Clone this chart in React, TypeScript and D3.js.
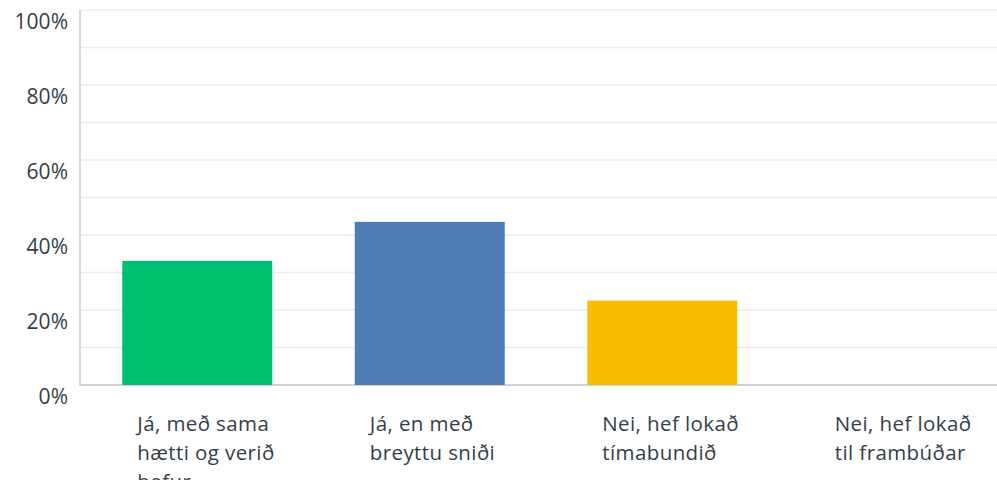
import React, { useEffect, useRef } from "react";
import * as d3 from "d3";

const categories = [
  "Já, með sama hætti og verið hefur",
  "Já, en með breyttu sniði",
  "Nei, hef lokað tímabundið",
  "Nei, hef lokað til frambúðar",
];
const values = [33.1, 43.5, 22.5, 0];
const colors = ["#00bf6f", "#507cb6", "#f9be00", "#6bc8cd"];
const yTicks = [0, 20, 40, 60, 80, 100];
const gridTicks = [0, 10, 20, 30, 40, 50, 60, 70, 80, 90, 100];

const W = 997;
const H = 480;
const left = 81;
const rightEdge = 1011;
const top = 10;
const bottom = 385;
const FONT = "'Open Sans', Roboto, sans-serif";
const TEXT = "#333e48";

export default function App() {
  const labelRef = useRef<SVGGElement>(null);
  const x = d3
    .scaleBand<string>()
    .domain(categories)
    .range([left, rightEdge])
    .paddingInner(0.355)
    .paddingOuter(0.1775);
  const y = d3.scaleLinear().domain([0, 100]).range([bottom, top]);

  useEffect(() => {
    if (!labelRef.current) return;
    const g = d3.select(labelRef.current);
    g.selectAll("*").remove();
    categories.forEach((c) => {
      const x0 = (x(c) as number) + 15;
      const t = g
        .append("text")
        .attr("x", x0)
        .attr("y", 431)
        .attr("font-family", FONT)
        .attr("font-size", 20.5)
        .attr("letter-spacing", 0.4)
        .attr("fill", TEXT);
      const words = c.split(" ");
      let line: string[] = [];
      let tspan = t.append("tspan").attr("x", x0).attr("dy", 0);
      words.forEach((w) => {
        line.push(w);
        tspan.text(line.join(" "));
        const node = tspan.node() as SVGTSpanElement;
        if (node.getComputedTextLength() > 145 && line.length > 1) {
          line.pop();
          tspan.text(line.join(" "));
          line = [w];
          tspan = t.append("tspan").attr("x", x0).attr("dy", 29).text(w);
        }
      });
    });
  }, []);

  return (
    <svg
      width={W}
      height={H}
      style={{ position: "absolute", left: 0, top: 0, background: "#fff" }}
    >
      {gridTicks.map((t) => (
        <line
          key={t}
          x1={left}
          x2={W}
          y1={y(t)}
          y2={y(t)}
          stroke={t === 0 ? "#d3d3d3" : "#ececec"}
          strokeWidth={t === 0 ? 2 : 1.5}
        />
      ))}
      <line x1={80} x2={80} y1={top} y2={bottom + 1} stroke="#d9d9d9" strokeWidth={2} />
      {yTicks.map((t) => (
        <text
          key={t}
          x={68}
          y={y(t) + 19}
          textAnchor="end"
          fontFamily={FONT}
          fontSize={21}
          fill={TEXT}
        >
          {t}%
        </text>
      ))}
      {categories.map((c, i) => (
        <rect
          key={c}
          x={x(c)}
          width={x.bandwidth()}
          y={y(values[i])}
          height={bottom - y(values[i])}
          fill={colors[i]}
        />
      ))}
      <g ref={labelRef} />
    </svg>
  );
}
